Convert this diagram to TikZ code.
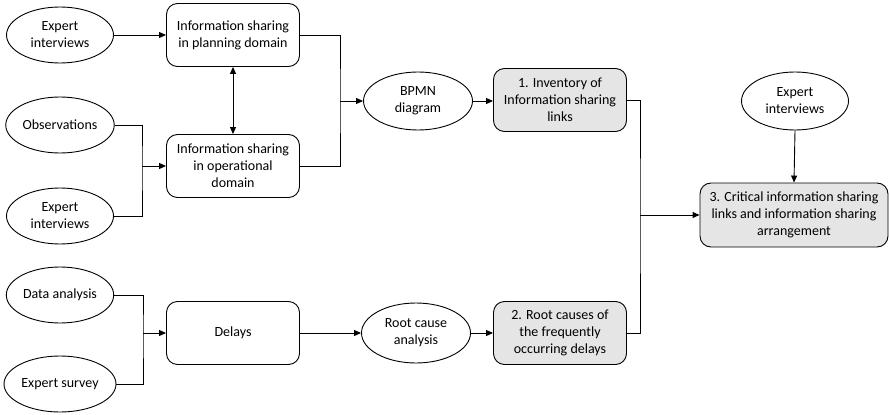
\documentclass[tikz,border=0pt]{standalone}
\usepackage{fontspec}
\setmainfont{Carlito}
\usetikzlibrary{arrows.meta,shapes.geometric}
\tikzset{
  base/.style={draw=black, line width=0.9pt, align=center, inner sep=1pt, font=\fontsize{14}{17}\selectfont},
  oval/.style={base, ellipse, minimum width=107pt, minimum height=56pt},
  rbox/.style={base, rectangle, rounded corners=11pt, minimum width=133pt, minimum height=63pt},
  gbox/.style={rbox, fill=gray!20},
  wire/.style={draw=black, line width=0.9pt},
  arr/.style={wire, -{Triangle[length=7pt,width=6pt]}},
  darr/.style={wire, {Triangle[length=7pt,width=6pt]}-{Triangle[length=7pt,width=6pt]}}
}
\begin{document}
\begin{tikzpicture}[x=1pt,y=-1pt]
\path[use as bounding box] (0,0) rectangle (889,415);
% ellipses
\node[oval] (ei1) at (60,35) {Expert\\interviews};
\node[oval] (obs) at (60,125) {Observations};
\node[oval] (ei2) at (60,216) {Expert\\interviews};
\node[oval] (da) at (60,295) {Data analysis};
\node[oval] (es) at (60,384) {Expert survey};
\node[oval, minimum width=109pt, minimum height=58pt] (bpmn) at (418,101) {BPMN\\diagram};
\node[oval, minimum width=109pt, minimum height=60pt] (rca) at (416,333) {Root cause\\analysis};
\node[oval, minimum width=107pt, minimum height=58pt] (ei3) at (795,101) {Expert\\interviews};
% boxes
\node[rbox] (plan) at (233,35) {Information sharing\\in planning domain};
\node[rbox] (oper) at (233,166) {Information sharing\\in operational\\domain};
\node[rbox] (del) at (233,333) {Delays};
\node[gbox] (b1) at (560,100) {1. Inventory of\\Information sharing\\links};
\node[gbox] (b2) at (560,333) {2. Root causes of\\the frequently\\occurring delays};
\node[gbox, minimum width=188pt, minimum height=64pt] (b3) at (794,215) {3. Critical information sharing\\links and information sharing\\arrangement};
% junctions
\coordinate (j1) at (340,101);
\coordinate (j2) at (142,166);
\coordinate (j3) at (143,333);
\coordinate (j4) at (640,215);
% connectors
\draw[arr] (ei1.east) -- (ei1.east -| plan.west);
\draw[darr] (plan.south) -- (oper.north);
\draw[wire] (obs.east) -| (j2) |- (ei2.east);
\draw[arr] (j2) -- (oper.west);
\draw[wire] (plan.east) -| (j1) |- (oper.east);
\draw[arr] (j1) -- (bpmn.west);
\draw[arr] (bpmn.east) -- (bpmn.east -| b1.west);
\draw[wire] (da.east) -| (j3) |- (es.east);
\draw[arr] (j3) -- (del.west);
\draw[arr] (del.east) -- (rca.west);
\draw[arr] (rca.east) -- (b2.west);
\draw[wire] (b1.east) -| (j4) |- (b2.east);
\draw[arr] (j4) -- (b3.west);
\draw[arr] (ei3.south) -- (b3.north);
\end{tikzpicture}
\end{document}
